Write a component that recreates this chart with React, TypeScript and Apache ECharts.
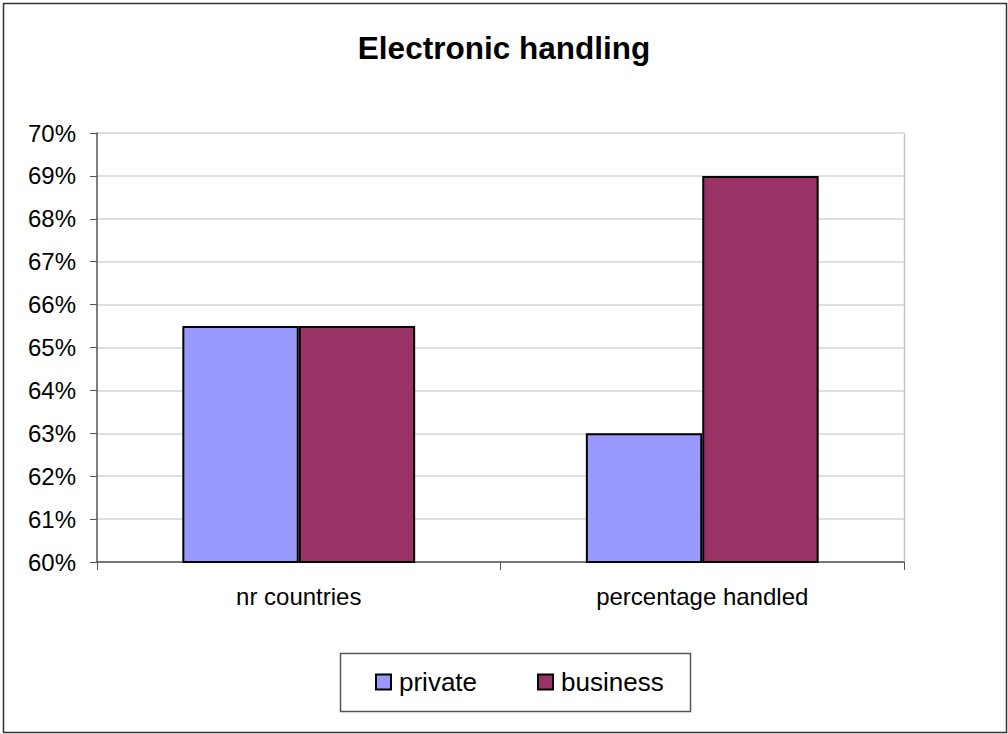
import React, { useEffect, useRef } from "react";
import * as echarts from "echarts";

const categories = ["nr countries", "percentage handled"];
const privateValues = [65.5, 63];
const businessValues = [65.5, 69];
const yTicks = { min: 60, max: 70, interval: 1 };

export default function App() {
  const ref = useRef<HTMLDivElement>(null);
  useEffect(() => {
    document.body.style.margin = "0";
    const chart = echarts.init(ref.current!, null, { renderer: "svg" });
    const font = "Liberation Sans, Arial, sans-serif";
    chart.setOption({
      animation: false,
      backgroundColor: "#ffffff",
      title: {
        text: "Electronic handling",
        left: "center",
        top: 27,
        textStyle: { fontFamily: font, fontSize: 31.5, fontWeight: "bold", color: "#000" },
      },
      grid: { left: 97, top: 133, width: 807, height: 429, containLabel: false },
      legend: {
        left: 370,
        top: 664,
        padding: 5,
        itemWidth: 15,
        itemHeight: 15,
        itemGap: 60,
        icon: "rect",
        textStyle: { fontFamily: font, fontSize: 26, color: "#000", padding: [0, 0, 0, 3] },
        data: ["private", "business"],
      },
      graphic: [
        { type: "rect", shape: { x: 3.5, y: 3.5, width: 1003, height: 729 }, style: { fill: "none", stroke: "#333", lineWidth: 1.5 }, z: -1 },
        { type: "rect", shape: { x: 340.5, y: 653.5, width: 350, height: 58 }, style: { fill: "none", stroke: "#555", lineWidth: 1.5 }, z: -1 },
        { type: "line", shape: { x1: 904.5, y1: 133, x2: 904.5, y2: 562 }, style: { stroke: "#c8c8c8", lineWidth: 1.5 } },
      ],
      xAxis: {
        type: "category",
        data: categories,
        axisLine: { lineStyle: { color: "#555", width: 1.5 } },
        axisTick: { show: true, length: 8, lineStyle: { color: "#555" } },
        axisLabel: { fontFamily: font, fontSize: 24, color: "#000", margin: 22 },
      },
      yAxis: {
        type: "value",
        min: yTicks.min,
        max: yTicks.max,
        interval: yTicks.interval,
        axisLine: { show: true, lineStyle: { color: "#555", width: 1.5 } },
        axisTick: { show: true, length: 7, lineStyle: { color: "#555" } },
        axisLabel: { fontFamily: font, fontSize: 24, color: "#000", margin: 21, formatter: "{value}%" },
        splitLine: { show: true, lineStyle: { color: "#d4d4d4", width: 1.5 } },
      },
      series: [
        {
          name: "private",
          type: "bar",
          data: privateValues,
          barGap: "0%",
          barCategoryGap: "42.3%",
          itemStyle: { color: "#9999ff", borderColor: "#000", borderWidth: 2 },
        },
        {
          name: "business",
          type: "bar",
          data: businessValues,
          barGap: "0%",
          barCategoryGap: "42.3%",
          itemStyle: { color: "#993366", borderColor: "#000", borderWidth: 2 },
        },
      ],
    });
    return () => chart.dispose();
  }, []);
  return <div ref={ref} style={{ position: "absolute", left: 0, top: 0, width: 1008, height: 734 }} />;
}
